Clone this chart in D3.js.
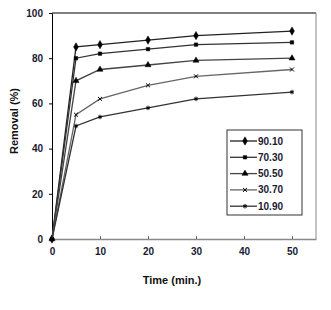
<!DOCTYPE html>
<html>
<head>
<meta charset="utf-8">
<script src="https://d3js.org/d3.v7.min.js"></script>
<style>
  body { margin: 0; background: #fff; }
  text { font-family: Arial, "Liberation Sans", sans-serif; }
</style>
</head>
<body>
<div id="chart"></div>
<script>
var times = [0, 5, 10, 20, 30, 50];
var seriesNames = ["90.10", "70.30", "50.50", "30.70", "10.90"];
var s9010 = [0, 85, 86, 88, 90, 92];
var s7030 = [0, 80, 82, 84, 86, 87];
var s5050 = [0, 70, 75, 77, 79, 80];
var s3070 = [0, 55, 62, 68, 72, 75];
var s1090 = [0, 50, 54, 58, 62, 65];
var xTicks = [0, 10, 20, 30, 40, 50];
var yTicks = [0, 20, 40, 60, 80, 100];

var allSeries = [s9010, s7030, s5050, s3070, s1090];
var symbols = [d3.symbolDiamond, d3.symbolSquare, d3.symbolTriangle, d3.symbolX, d3.symbolAsterisk];
var symSizes = [20, 12, 16, 12, 14];
var lineColors = ["#222", "#333", "#444", "#666", "#333"];

var W = 331, H = 310;
var margin = {top: 13, right: 15, bottom: 71, left: 52};

var svg = d3.select("#chart").append("svg")
  .attr("width", W).attr("height", H);

var x = d3.scaleLinear().domain([0, 55]).range([margin.left, W - margin.right]);
var y = d3.scaleLinear().domain([0, 100]).range([H - margin.bottom, margin.top]);

// frame
svg.append("line").attr("x1", x(0)).attr("x2", x(55)).attr("y1", y(100)).attr("y2", y(100))
  .attr("stroke", "#000");
svg.append("line").attr("x1", x(55)).attr("x2", x(55)).attr("y1", y(100)).attr("y2", y(0))
  .attr("stroke", "#888");

// x axis (ticks inward)
var xAxis = svg.append("g")
  .attr("transform", "translate(0," + y(0) + ")")
  .call(d3.axisBottom(x).tickValues(xTicks).tickSize(-3).tickSizeOuter(0).tickPadding(9));
xAxis.select(".domain").attr("stroke", "#888").attr("stroke-width", 1.5);
xAxis.selectAll(".tick line").attr("stroke", "#666");
xAxis.selectAll("text").attr("font-size", 10).attr("font-weight", "bold").attr("fill", "#1a1a33");

// y axis (ticks outward)
var yAxis = svg.append("g")
  .attr("transform", "translate(" + x(0) + ",0)")
  .call(d3.axisLeft(y).tickValues(yTicks).tickSize(3).tickSizeOuter(0).tickPadding(6));
yAxis.select(".domain").attr("stroke", "#000");
yAxis.selectAll("text").attr("font-size", 10).attr("font-weight", "bold").attr("fill", "#1a1a33");

// axis titles
svg.append("text")
  .attr("x", 172).attr("y", 284)
  .attr("text-anchor", "middle")
  .attr("font-size", 11).attr("font-weight", "bold").attr("fill", "#111")
  .text("Time (min.)");
svg.append("text")
  .attr("transform", "translate(18," + (y(50) - 5) + ") rotate(-90)")
  .attr("text-anchor", "middle")
  .attr("font-size", 11).attr("font-weight", "bold").attr("fill", "#111")
  .text("Removal (%)");

var line = d3.line()
  .x(function(d, i) { return x(times[i]); })
  .y(function(d) { return y(d); });

allSeries.forEach(function(s, k) {
  svg.append("path")
    .datum(s)
    .attr("fill", "none")
    .attr("stroke", lineColors[k])
    .attr("stroke-width", 1.3)
    .attr("d", line);

  svg.selectAll(".pt" + k)
    .data(s)
    .enter().append("path")
    .attr("class", "pt" + k)
    .attr("transform", function(d, i) { return "translate(" + x(times[i]) + "," + y(d) + ")"; })
    .attr("d", d3.symbol().type(symbols[k]).size(symSizes[k]))
    .attr("fill", "#000")
    .attr("stroke", "#000")
    .attr("stroke-width", k >= 3 ? 1 : 0.5);
});

// legend
var lg = svg.append("g");
lg.append("rect")
  .attr("x", 227).attr("y", 130).attr("width", 75).attr("height", 85)
  .attr("fill", "#fff").attr("stroke", "#333").attr("stroke-width", 1);

seriesNames.forEach(function(name, k) {
  var ly = 141 + k * 16.3;
  lg.append("line")
    .attr("x1", 230).attr("x2", 257).attr("y1", ly).attr("y2", ly)
    .attr("stroke", lineColors[k]).attr("stroke-width", 1.3);
  lg.append("path")
    .attr("transform", "translate(245," + ly + ")")
    .attr("d", d3.symbol().type(symbols[k]).size(symSizes[k]))
    .attr("fill", "#000").attr("stroke", "#000")
    .attr("stroke-width", k >= 3 ? 1 : 0.5);
  lg.append("text")
    .attr("x", 258).attr("y", ly + 3.5)
    .attr("font-size", 10).attr("font-weight", "bold").attr("fill", "#1a1a33")
    .text(name);
});
</script>
</body>
</html>
